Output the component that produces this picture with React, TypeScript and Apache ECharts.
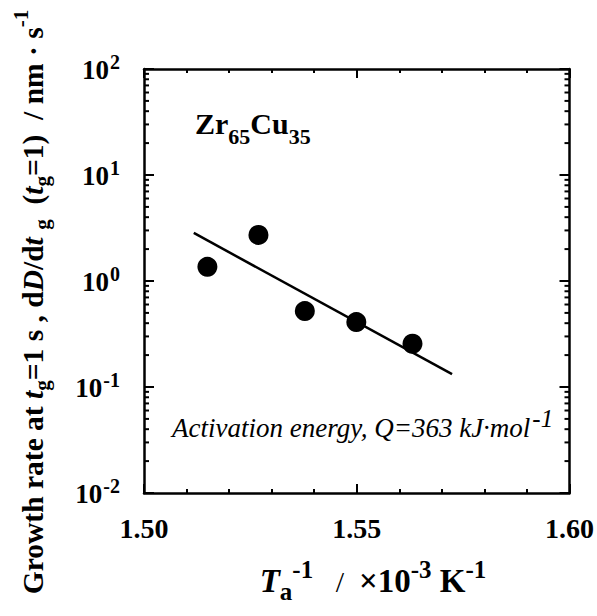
import React, { useEffect, useRef } from 'react';
import * as echarts from 'echarts';

// Measured data (T_a^-1 in 10^-3 K^-1, growth rate in nm/s)
const xValues = [1.5149, 1.5269, 1.5378, 1.5499, 1.5631];
const yValues = [1.36, 2.72, 0.52, 0.41, 0.256];
// Arrhenius fit line end points
const fitX = [1.5117, 1.5724];
const fitY = [2.84, 0.132];
// Axis ranges
const xMin = 1.5;
const xMax = 1.6;
const xInterval = 0.05;
const yMin = 0.01;
const yMax = 100;
// Log minor ticks
const decades = [0.01, 0.1, 1, 10];
const minorMultipliers = [2, 3, 4, 5, 6, 7, 8, 9];

const FONT = 'Liberation Serif, serif';

export default function App() {
  const ref = useRef<HTMLDivElement>(null);

  useEffect(() => {
    document.body.style.margin = '0';
    if (!ref.current) return;
    const chart = echarts.init(ref.current, undefined, { renderer: 'svg' });

    const axisLineStyle = { color: '#000', width: 2.5 };
    const tickStyle = { color: '#000', width: 2 };

    const xAxisBase = {
      type: 'value',
      min: xMin,
      max: xMax,
      interval: xInterval,
      axisLine: { show: true, onZero: false, lineStyle: axisLineStyle },
      axisTick: { show: true, inside: true, length: 9, lineStyle: tickStyle },
      minorTick: { show: true, splitNumber: 5, length: 4, lineStyle: tickStyle },
      splitLine: { show: false },
      minorSplitLine: { show: false },
    };
    const yAxisBase = {
      type: 'log',
      logBase: 10,
      min: yMin,
      max: yMax,
      axisLine: { show: true, onZero: false, lineStyle: axisLineStyle },
      axisTick: { show: true, inside: true, length: 10, lineStyle: tickStyle },
      splitLine: { show: false },
    };

    const minorData = decades.flatMap((d) => minorMultipliers.map((m) => [xMin, d * m]));

    const lblRich = {
      b: { fontSize: 27, fontWeight: 'bold', fontFamily: FONT, color: '#000', verticalAlign: 'top', padding: [6, 0, 0, 0], lineHeight: 38 },
      s: { fontSize: 20, fontWeight: 'bold', fontFamily: FONT, color: '#000', verticalAlign: 'top', padding: [2, 0, 0, 1], lineHeight: 38 },
    };

    const yNameRich = {
      m: { fontSize: 29.5, fontWeight: 'bold', fontFamily: FONT, fill: '#000', verticalAlign: 'top', padding: [9, 0, 0, 0], lineHeight: 48 },
      i: { fontSize: 29.5, fontWeight: 'bold', fontStyle: 'italic', fontFamily: FONT, fill: '#000', verticalAlign: 'top', padding: [9, 0, 0, 0], lineHeight: 48 },
      sub: { fontSize: 21, fontWeight: 'bold', fontFamily: FONT, fill: '#000', verticalAlign: 'top', padding: [22.5, 0, 0, 0], lineHeight: 48 },
      sup: { fontSize: 21, fontWeight: 'bold', fontFamily: FONT, fill: '#000', verticalAlign: 'top', padding: [1.5, 0, 0, 0], lineHeight: 48 },
    };

    const xNameRich = {
      M: { fontSize: 33, fontWeight: 'bold', fontFamily: FONT, fill: '#000', verticalAlign: 'top', padding: [7, 0, 0, 0], lineHeight: 50 },
      I: { fontSize: 33, fontWeight: 'bold', fontStyle: 'italic', fontFamily: FONT, fill: '#000', verticalAlign: 'top', padding: [7, 0, 0, 0], lineHeight: 50 },
      N: { fontSize: 30, fontWeight: 'normal', fontFamily: FONT, fill: '#000', verticalAlign: 'top', padding: [9, 0, 0, 0], lineHeight: 50 },
      sub: { fontSize: 25, fontWeight: 'bold', fontFamily: FONT, fill: '#000', verticalAlign: 'top', padding: [22, 0, 0, 0], lineHeight: 50 },
      sup: { fontSize: 25, fontWeight: 'bold', fontFamily: FONT, fill: '#000', verticalAlign: 'top', padding: [0, 0, 0, 0], lineHeight: 50 },
    };

    const zrRich = {
      z: { fontSize: 30, fontWeight: 'bold', fontFamily: FONT, fill: '#000', verticalAlign: 'top', padding: [10, 0, 0, 0], lineHeight: 50 },
      zs: { fontSize: 22, fontWeight: 'bold', fontFamily: FONT, fill: '#000', verticalAlign: 'top', padding: [27, 0, 0, 0], lineHeight: 50 },
    };

    const annRich = {
      a: { fontSize: 27, fontStyle: 'italic', fontFamily: FONT, fill: '#000', verticalAlign: 'top', padding: [8, 0, 0, 0], lineHeight: 44 },
      as: { fontSize: 25, fontStyle: 'italic', fontFamily: FONT, fill: '#000', verticalAlign: 'top', padding: [0, 0, 0, 2], lineHeight: 44 },
    };

    chart.setOption({
      animation: false,
      backgroundColor: '#fff',
      grid: { left: 144, top: 69, width: 428, height: 424, containLabel: false },
      xAxis: [
        {
          ...xAxisBase,
          position: 'bottom',
          axisLabel: {
            formatter: (v: number) => v.toFixed(2),
            fontSize: 28,
            fontWeight: 'bold',
            fontFamily: FONT,
            color: '#000',
            margin: 21,
          },
        },
        { ...xAxisBase, position: 'top', axisLabel: { show: false } },
      ],
      yAxis: [
        {
          ...yAxisBase,
          position: 'left',
          axisLabel: {
            margin: 24,
            formatter: (v: number) => `{b|10}{s|${Math.round(Math.log10(v))}}`,
            rich: lblRich,
          },
        },
        { ...yAxisBase, position: 'right', axisLabel: { show: false } },
      ],
      series: [
        {
          type: 'custom',
          coordinateSystem: 'cartesian2d',
          xAxisIndex: 0,
          yAxisIndex: 0,
          silent: true,
          encode: { x: 0, y: 1 },
          data: minorData,
          renderItem: (params: any, api: any) => {
            const v = api.value(1);
            const l = api.coord([xMin, v]);
            const r = api.coord([xMax, v]);
            return {
              type: 'group',
              children: [
                { type: 'line', shape: { x1: l[0], y1: l[1], x2: l[0] + 5, y2: l[1] }, style: { stroke: '#000', lineWidth: 2 } },
                { type: 'line', shape: { x1: r[0] - 5, y1: r[1], x2: r[0], y2: r[1] }, style: { stroke: '#000', lineWidth: 2 } },
              ],
            };
          },
        },
        {
          type: 'line',
          data: fitX.map((x, i) => [x, fitY[i]]),
          showSymbol: false,
          lineStyle: { color: '#000', width: 2.5 },
          silent: true,
        },
        {
          type: 'scatter',
          data: xValues.map((x, i) => [x, yValues[i]]),
          symbol: 'circle',
          symbolSize: 20,
          itemStyle: { color: '#000', opacity: 1 },
          silent: true,
        },
      ],
      graphic: [
        {
          type: 'text',
          x: 195,
          y: 123.5,
          style: {
            text: '{z|Zr}{zs|65}{z|Cu}{zs|35}',
            rich: zrRich,
            align: 'left',
            verticalAlign: 'middle',
          },
        },
        {
          type: 'text',
          x: 172,
          y: 428,
          style: {
            text: '{a|Activation energy, Q=363 kJ·mol}{as|-1}',
            rich: annRich,
            align: 'left',
            verticalAlign: 'middle',
          },
        },
        {
          type: 'text',
          x: 373,
          y: 582,
          style: {
            text: '{I|T}{sub|a}{sup|-1}{N|   /  }{M|×10}{sup|-3}{M| K}{sup|-1}',
            rich: xNameRich,
            align: 'center',
            verticalAlign: 'middle',
          },
        },
        {
          type: 'text',
          x: 33,
          y: 302,
          rotation: Math.PI / 2,
          style: {
            text: '{m|Growth rate at }{i|t}{sub|g}{m|=1 s , d}{i|D}{m|/d}{i|t}{m| }{sub|g}{m|  (}{i|t}{sub|g}{m|=1)  / nm · s}{sup|-1}',
            rich: yNameRich,
            align: 'center',
            verticalAlign: 'middle',
          },
        },
      ],
    });

    return () => chart.dispose();
  }, []);

  return <div ref={ref} style={{ width: 597, height: 616 }} />;
}
